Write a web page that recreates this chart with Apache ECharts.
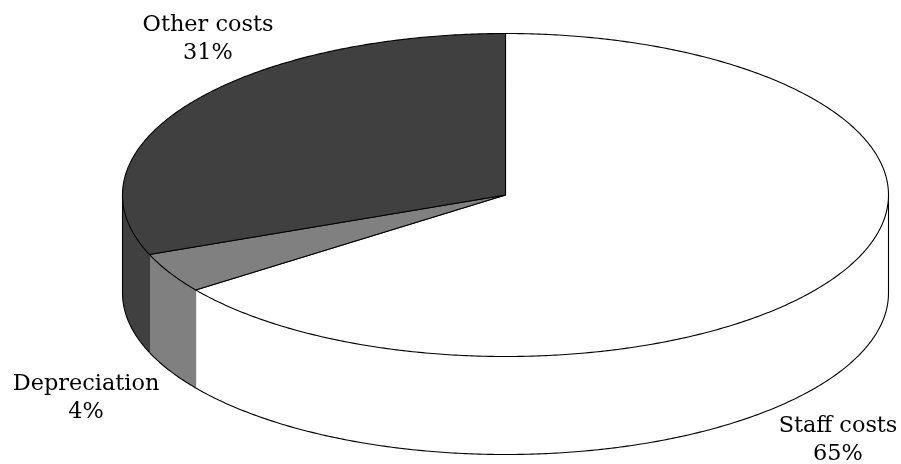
<!DOCTYPE html>
<html>
<head>
<meta charset="utf-8">
<style>html,body{margin:0;padding:0;background:#fff}#chart{width:901px;height:464px}</style>
<script src="https://cdn.jsdelivr.net/npm/echarts@6/dist/echarts.min.js"></script>
</head>
<body>
<div id="chart"></div>
<script>
// Cost breakdown, percent of total
const categories = ['Staff costs', 'Depreciation', 'Other costs'];
const shares = [65, 4, 31];

// Appearance of each slice and where its caption sits
const sliceColors = ['#ffffff', '#808080', '#404040'];
const wallEdgeColors = ['#ffffff', '#6e6e6e', '#2e2e2e'];
const captionCentres = [[838, 440], [86, 398], [208, 39]];

// Disc geometry in pixels
const disc = { cx: 505.5, cy: 195, rx: 383, ry: 161.5, depth: 98 };
const total = shares.reduce((a, b) => a + b, 0);

function rimPoint(deg, drop) {
  const t = deg * Math.PI / 180;
  return [disc.cx + disc.rx * Math.sin(t), disc.cy - disc.ry * Math.cos(t) + drop];
}

function arcPoints(from, to, drop) {
  const pts = [];
  const steps = Math.max(2, Math.ceil(Math.abs(to - from) * 2));
  for (let i = 0; i <= steps; i++) {
    pts.push(rimPoint(from + (to - from) * i / steps, drop));
  }
  return pts;
}

function renderSlice(params, api) {
  const i = params.dataIndex;
  const before = shares.slice(0, i).reduce((a, b) => a + b, 0);
  const start = before / total * 360;
  const end = start + api.value(1) / total * 360;
  const children = [];

  // Front wall: only the part of the rim facing the viewer (90 to 270 degrees)
  const wFrom = Math.max(start, 90);
  const wTo = Math.min(end, 270);
  if (wTo > wFrom) {
    const lower = arcPoints(wFrom, wTo, disc.depth);
    const upper = arcPoints(wTo, wFrom, 0);
    children.push({
      type: 'polygon',
      shape: { points: lower.concat(upper) },
      style: { fill: sliceColors[i], stroke: null }
    });
    children.push({
      type: 'polyline',
      shape: { points: lower },
      style: { fill: null, stroke: '#000', lineWidth: 1.1 }
    });
    // Vertical seam at the slice's far end
    if (wTo < 270) {
      children.push({
        type: 'line',
        shape: { x1: lower[lower.length - 1][0], y1: lower[lower.length - 1][1],
                 x2: upper[0][0], y2: upper[0][1] },
        style: { stroke: wallEdgeColors[i + 1], lineWidth: 1 }
      });
    }
  }

  // Silhouette edges of the wall at the extreme left and right of the disc
  [90, 270].forEach(function (deg) {
    if (deg >= start && deg < end || (deg === 270 && deg > start && deg <= end)) {
      const a = rimPoint(deg, 0), b = rimPoint(deg, disc.depth);
      children.push({
        type: 'line',
        shape: { x1: a[0], y1: a[1], x2: b[0], y2: b[1] },
        style: { stroke: '#000', lineWidth: 1.1 }
      });
    }
  });

  // Top face
  children.push({
    type: 'polygon',
    shape: { points: [[disc.cx, disc.cy]].concat(arcPoints(start, end, 0)) },
    style: { fill: sliceColors[i], stroke: '#000', lineWidth: 1.1, lineJoin: 'round' }
  });

  // Caption
  children.push({
    type: 'text',
    style: {
      x: captionCentres[i][0],
      y: captionCentres[i][1],
      text: categories[i] + '\n' + api.value(1) + '%',
      fill: '#000',
      font: '22.4px "DejaVu Serif"',
      lineHeight: 28,
      align: 'center',
      verticalAlign: 'middle'
    }
  });
  return { type: 'group', children: children };
}

const chart = echarts.init(document.getElementById('chart'), null, { renderer: 'canvas' });
chart.setOption({
  animation: false,
  backgroundColor: '#ffffff',
  series: [{
    type: 'custom',
    coordinateSystem: 'none',
    renderItem: renderSlice,
    data: categories.map((c, i) => [i, shares[i]])
  }]
});
</script>
</body>
</html>
